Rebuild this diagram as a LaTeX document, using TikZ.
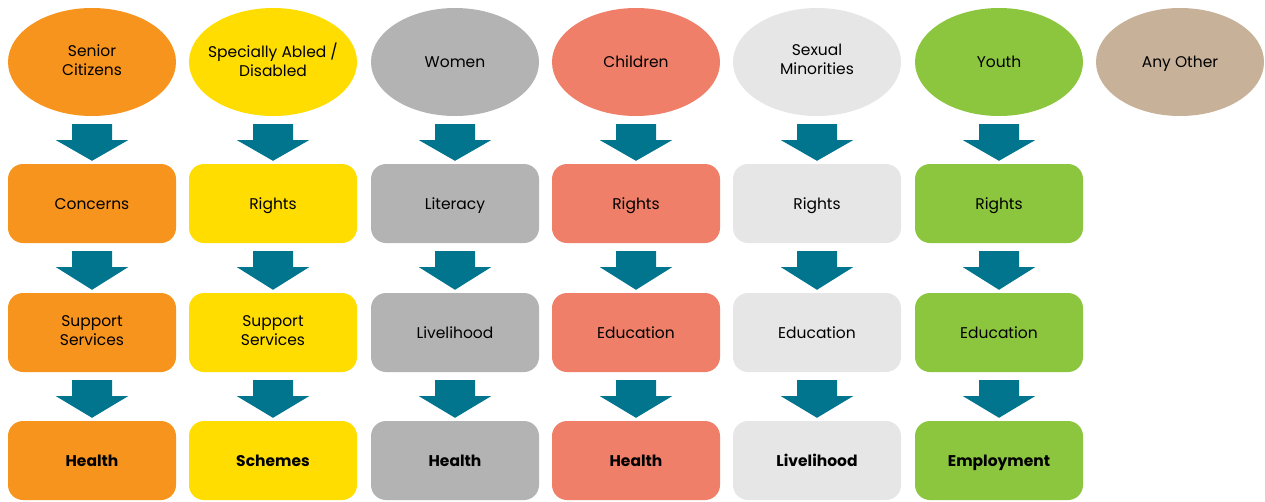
\documentclass[tikz,border=0pt]{standalone}
\usepackage{fontspec}
\setmainfont{Poppins}
\usetikzlibrary{shapes.geometric,calc}
\definecolor{corange}{HTML}{F7941E}
\definecolor{cyellow}{HTML}{FFDD00}
\definecolor{cgray}{HTML}{B3B3B3}
\definecolor{csalmon}{HTML}{EF7F68}
\definecolor{clight}{HTML}{E6E6E6}
\definecolor{cgreen}{HTML}{8CC63F}
\definecolor{ctan}{HTML}{C7B299}
\definecolor{cteal}{HTML}{00758D}
\tikzset{
  txt/.style={align=center, font=\fontsize{15.5}{19}\selectfont,
    execute at begin node=\rule{0pt}{15.5pt},
    execute at end node=\rule[-4.5pt]{0pt}{4.5pt}},
  oval/.style={txt, ellipse, minimum width=168pt, minimum height=108pt, inner sep=0pt},
  rbox/.style={txt, rectangle, rounded corners=15pt, minimum width=168pt, minimum height=79pt, inner sep=0pt},
  bbox/.style={rbox, font=\fontsize{15.5}{19}\selectfont\bfseries},
  blockarrow/.style={fill=cteal},
}
\newcommand{\blkarrow}[2]{%
  \fill[blockarrow] ($(#1.south)+(-20,8)$) -- ($(#1.south)+(20,8)$) -- ($(#1.south)+(20,24)$) -- ($(#1.south)+(36,24)$) -- ($(#2.north)+(0,-3)$) -- ($(#1.south)+(-36,24)$) -- ($(#1.south)+(-20,24)$) -- cycle;}
\begin{document}
\begin{tikzpicture}[x=1pt,y=-1pt]
\useasboundingbox (0,0) rectangle (1265,501);
% column 1
\node[oval, fill=corange] (e1) at (92,62) {Senior\\Citizens};
\node[rbox, fill=corange] (a1) at (92,203.5) {Concerns};
\node[rbox, fill=corange] (b1) at (92,332.5) {Support\\Services};
\node[bbox, fill=corange] (c1) at (92,460.5) {Health};
% column 2
\node[oval, fill=cyellow, inner xsep=-30pt] (e2) at (273,62) {Specially Abled /\\Disabled};
\node[rbox, fill=cyellow] (a2) at (273,203.5) {Rights};
\node[rbox, fill=cyellow] (b2) at (273,332.5) {Support\\Services};
\node[bbox, fill=cyellow] (c2) at (273,460.5) {Schemes};
% column 3
\node[oval, fill=cgray] (e3) at (455,62) {Women};
\node[rbox, fill=cgray] (a3) at (455,203.5) {Literacy};
\node[rbox, fill=cgray] (b3) at (455,332.5) {Livelihood};
\node[bbox, fill=cgray] (c3) at (455,460.5) {Health};
% column 4
\node[oval, fill=csalmon] (e4) at (636,62) {Children};
\node[rbox, fill=csalmon] (a4) at (636,203.5) {Rights};
\node[rbox, fill=csalmon] (b4) at (636,332.5) {Education};
\node[bbox, fill=csalmon] (c4) at (636,460.5) {Health};
% column 5
\node[oval, fill=clight] (e5) at (817,62) {Sexual\\Minorities};
\node[rbox, fill=clight] (a5) at (817,203.5) {Rights};
\node[rbox, fill=clight] (b5) at (817,332.5) {Education};
\node[bbox, fill=clight] (c5) at (817,460.5) {Livelihood};
% column 6
\node[oval, fill=cgreen] (e6) at (999,62) {Youth};
\node[rbox, fill=cgreen] (a6) at (999,203.5) {Rights};
\node[rbox, fill=cgreen] (b6) at (999,332.5) {Education};
\node[bbox, fill=cgreen] (c6) at (999,460.5) {Employment};
% column 7
\node[oval, fill=ctan] (e7) at (1180,62) {Any Other};
% arrows
\foreach \i in {1,...,6} {
  \blkarrow{e\i}{a\i}
  \blkarrow{a\i}{b\i}
  \blkarrow{b\i}{c\i}
}
\end{tikzpicture}
\end{document}
